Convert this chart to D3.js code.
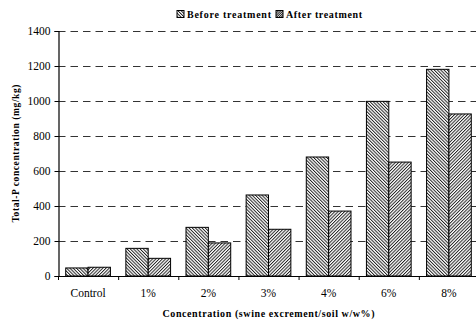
<!DOCTYPE html>
<html>
<head>
<meta charset="utf-8">
<script src="https://cdn.jsdelivr.net/npm/d3@7"></script>
<style>
  html, body { margin: 0; padding: 0; background: #fff; }
  svg text { font-family: 'Liberation Serif', 'Times New Roman', Times, serif !important; }
</style>
</head>
<body>
<svg id="chart" width="476" height="322"></svg>
<script>
// Total-P in soil before / after treatment, by swine excrement concentration
const categories = ["Control", "1%", "2%", "3%", "4%", "6%", "8%"];
const beforeTreatment = [46, 158, 278, 463, 680, 998, 1181];
const afterTreatment = [50, 101, 189, 267, 371, 651, 926];
const yTicks = [0, 200, 400, 600, 800, 1000, 1200, 1400];
const seriesNames = ["Before treatment", "After treatment"];

const svg = d3.select("#chart");
const margin = { left: 58, top: 31, right: -3, bottom: 46 };
const W = 476, H = 322;
const x0 = margin.left, x1 = W - margin.right;
const yTop = margin.top, yBot = H - margin.bottom;

// hatch fills
const defs = svg.append("defs");
function hatch(id, dir, period) {
  const p = defs.append("pattern")
    .attr("id", id).attr("patternUnits", "userSpaceOnUse")
    .attr("width", period).attr("height", period)
    .attr("patternTransform", `rotate(${dir})`);
  p.append("rect").attr("width", period).attr("height", period).attr("fill", "#fff");
  p.append("line").attr("x1", 0.5).attr("y1", 0).attr("x2", 0.5).attr("y2", period)
    .attr("stroke", "#111").attr("stroke-width", 0.9);
}
hatch("hBefore", -45, 2.3);
hatch("hAfter", 45, 2.3);
hatch("hAfterKey", 45, 1.6);
const fills = ["url(#hBefore)", "url(#hAfter)"];

const x = d3.scaleBand().domain(categories).range([x0, x1]).paddingInner(0).paddingOuter(0);
const xs = d3.scaleBand().domain([0, 1]).range([0, x.bandwidth()]).paddingInner(0).paddingOuter(0.345);
const y = d3.scaleLinear().domain([0, 1400]).range([yBot, yTop]);

// dashed gridlines
svg.append("g").selectAll("line").data(yTicks.filter(d => d > 0)).join("line")
  .attr("x1", x0).attr("x2", x1)
  .attr("y1", d => Math.round(y(d)) + 0.5).attr("y2", d => Math.round(y(d)) + 0.5)
  .attr("stroke", "#333").attr("stroke-width", 1.1)
  .attr("stroke-dasharray", "7.5,5");

// bars
const groups = svg.append("g").selectAll("g").data(categories).join("g")
  .attr("transform", d => `translate(${x(d)},0)`);
groups.selectAll("rect")
  .data((d, i) => [beforeTreatment[i], afterTreatment[i]].map((v, k) => ({ v, k })))
  .join("rect")
  .attr("x", d => xs(d.k))
  .attr("width", xs.bandwidth())
  .attr("y", d => y(d.v))
  .attr("height", d => y(0) - y(d.v))
  .attr("fill", d => fills[d.k])
  .attr("stroke", "#000").attr("stroke-width", 1);

// y axis
const yAxis = svg.append("g").attr("transform", `translate(${x0 + 0.5},0)`)
  .call(d3.axisLeft(y).tickValues(yTicks).tickFormat(d3.format("d")).tickSize(4).tickPadding(4));
yAxis.select(".domain").attr("stroke", "#000").attr("stroke-width", 1.2);
yAxis.selectAll("text").attr("font-size", 11.5).attr("fill", "#000");

// x axis: ticks at category boundaries
svg.append("line").attr("x1", x0).attr("x2", x1)
  .attr("y1", yBot + 0.5).attr("y2", yBot + 0.5)
  .attr("stroke", "#000").attr("stroke-width", 1.2);
svg.append("g").selectAll("line").data(categories).join("line")
  .attr("x1", d => x(d) + 0.5).attr("x2", d => x(d) + 0.5)
  .attr("y1", yBot).attr("y2", yBot + 4)
  .attr("stroke", "#000");
svg.append("g").selectAll("text").data(categories).join("text")
  .attr("x", d => x(d) + x.bandwidth() / 2)
  .attr("y", yBot + 21)
  .attr("text-anchor", "middle").attr("font-size", 11.5)
  .text(d => d);

// axis titles
svg.append("text")
  .attr("x", (x0 + x1) / 2).attr("y", 317)
  .attr("text-anchor", "middle").attr("font-size", 10).attr("font-weight", "bold")
  .attr("textLength", 212).attr("lengthAdjust", "spacing")
  .text("Concentration (swine excrement/soil w/w%)");
svg.append("text")
  .attr("transform", `translate(19,${(yTop + yBot) / 2}) rotate(-90)`)
  .attr("text-anchor", "middle").attr("font-size", 9.5).attr("font-weight", "bold")
  .attr("textLength", 138).attr("lengthAdjust", "spacing")
  .text("Total-P concentration (mg/kg)");

// legend
const legendItems = [
  { name: seriesNames[0], x: 177, fill: fills[0], len: 84 },
  { name: seriesNames[1], x: 276, fill: "url(#hAfterKey)", len: 76 }
];
const lg = svg.append("g").selectAll("g").data(legendItems).join("g")
  .attr("transform", d => `translate(${d.x},10.5)`);
lg.append("rect").attr("width", 7).attr("height", 7)
  .attr("fill", d => d.fill).attr("stroke", "#000").attr("stroke-width", 1);
lg.append("text").attr("x", 10).attr("y", 7)
  .attr("font-size", 10).attr("font-weight", "bold")
  .attr("textLength", d => d.len).attr("lengthAdjust", "spacing")
  .text(d => d.name);
</script>
</body>
</html>
